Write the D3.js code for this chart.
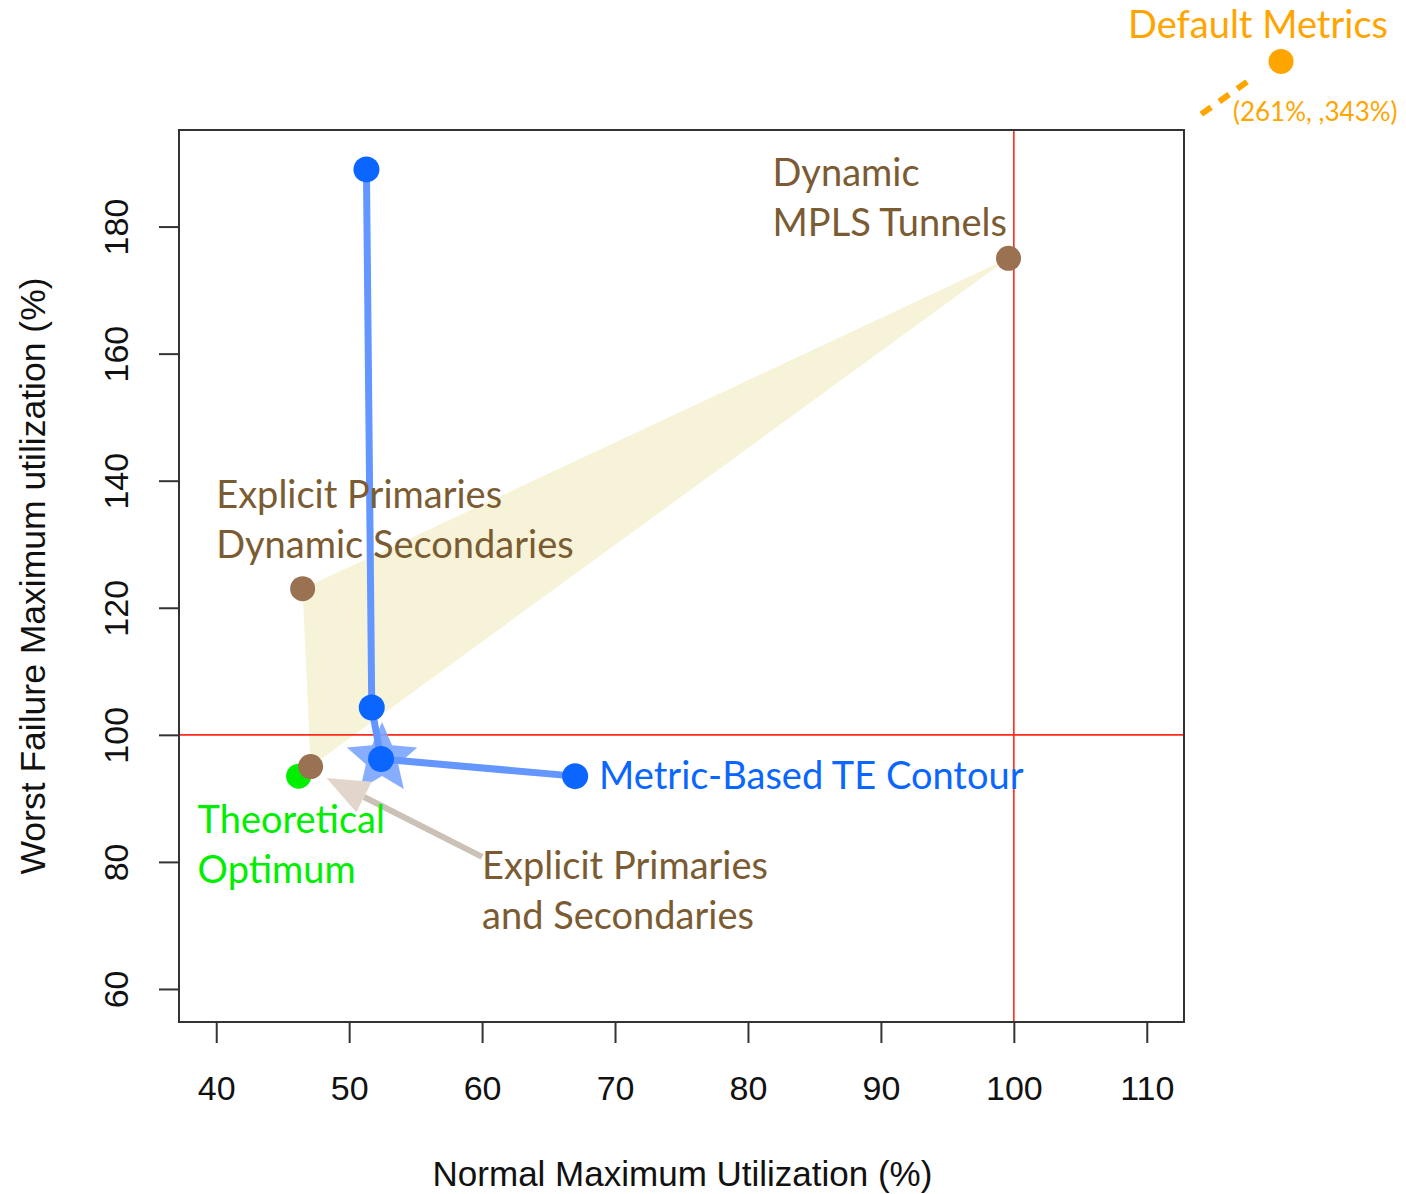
<!DOCTYPE html>
<html>
<head>
<meta charset="utf-8">
<script src="https://cdn.jsdelivr.net/npm/d3@7"></script>
<style>
  html, body { margin: 0; padding: 0; background: #fff; }
  svg { display: block; }
</style>
</head>
<body>
<svg id="chart" width="1406" height="1194"></svg>
<script>
// ---------------- data ----------------
const xTicks = [40, 50, 60, 70, 80, 90, 100, 110];
const yTicks = [60, 80, 100, 120, 140, 160, 180];
const xTitle = "Normal Maximum Utilization (%)";
const yTitle = "Worst Failure Maximum utilization (%)";

// Metric-based TE contour (blue)
const contourX = [51.3, 51.7, 52.4, 67.0];
const contourY = [189.0, 104.3, 96.2, 93.5];
const contourLabel = "Metric-Based TE Contour";
const chosenIndex = 2; // starred point

// Other schemes (brown)
const schemeNames = [["Dynamic", "MPLS Tunnels"], ["Explicit Primaries", "Dynamic Secondaries"], ["Explicit Primaries", "and Secondaries"]];
const schemeX = [99.6, 46.5, 47.1];
const schemeY = [175.0, 123.0, 95.0];

// Theoretical optimum (green)
const optimumX = [46.2];
const optimumY = [93.5];
const optimumLabel = ["Theoretical", "Optimum"];

// Default metrics (off the chart)
const defaultLabel = "Default Metrics";
const defaultValue = [261, 343];
const defaultValueLabel = "(261%, ,343%)";

// Reference lines
const refX = [100];
const refY = [100];

// ---------------- layout ----------------
const W = 1406, H = 1194;
const box = { left: 179, right: 1184, top: 130, bottom: 1022 };
const xDomain = [40, 110], yDomain = [60, 190];
const pad = d => { const r = d[1] - d[0]; return [d[0] - 0.04 * r, d[1] + 0.04 * r]; };

const x = d3.scaleLinear().domain(pad(xDomain)).range([box.left, box.right]);
const y = d3.scaleLinear().domain(pad(yDomain)).range([box.bottom, box.top]);

const annoFont = "Lato, 'Noto Sans', sans-serif";
const axisFont = "'Liberation Sans', Arial, sans-serif";
const brown = "#7b5b32";
const blue = "#0a66ff";
const green = "#00ee00";
const orange = "#ffa500";

const svg = d3.select("#chart");

// yellow region spanned by the three schemes
svg.append("path")
  .attr("d", d3.line()(schemeX.map((v, i) => [x(v), y(schemeY[i])])) + "Z")
  .attr("fill", "#f6f3d9");

// reference lines
refX.forEach(v => svg.append("line")
  .attr("x1", x(v)).attr("x2", x(v)).attr("y1", box.top).attr("y2", box.bottom)
  .attr("stroke", "#ff2a1a").attr("stroke-width", 1.6));
refY.forEach(v => svg.append("line")
  .attr("x1", box.left).attr("x2", box.right).attr("y1", y(v)).attr("y2", y(v))
  .attr("stroke", "#ff2a1a").attr("stroke-width", 1.6));

// box
svg.append("rect")
  .attr("x", box.left).attr("y", box.top)
  .attr("width", box.right - box.left).attr("height", box.bottom - box.top)
  .attr("fill", "none").attr("stroke", "#333").attr("stroke-width", 2);

// axes
const xAxis = svg.append("g")
  .attr("transform", `translate(0,${box.bottom})`)
  .call(d3.axisBottom(x).tickValues(xTicks).tickSize(21).tickPadding(33).tickSizeOuter(0));
xAxis.select(".domain").attr("d", `M${x(xTicks[0])},0H${x(xTicks[xTicks.length - 1])}`).attr("stroke", "#333").attr("stroke-width", 2);
xAxis.selectAll(".tick line").attr("stroke", "#333").attr("stroke-width", 2);
xAxis.selectAll(".tick text").attr("font-family", axisFont).attr("font-size", 34).attr("fill", "#111");

const yAxis = svg.append("g")
  .attr("transform", `translate(${box.left},0)`)
  .call(d3.axisLeft(y).tickValues(yTicks).tickSize(20).tickSizeOuter(0));
yAxis.select(".domain").attr("d", `M0,${y(yTicks[0])}V${y(yTicks[yTicks.length - 1])}`).attr("stroke", "#333").attr("stroke-width", 2);
yAxis.selectAll(".tick line").attr("stroke", "#333").attr("stroke-width", 2);
yAxis.selectAll(".tick text")
  .attr("font-family", axisFont).attr("font-size", 34).attr("fill", "#111")
  .attr("x", null).attr("dy", null)
  .attr("text-anchor", "middle")
  .attr("transform", "translate(-51,0) rotate(-90)");

// axis titles
svg.append("text")
  .attr("x", (box.left + box.right) / 2 + 1).attr("y", 1186)
  .attr("text-anchor", "middle")
  .attr("font-family", axisFont).attr("font-size", 35).attr("fill", "#111")
  .text(xTitle);
svg.append("text")
  .attr("transform", `translate(45,${(box.top + box.bottom) / 2}) rotate(-90)`)
  .attr("text-anchor", "middle")
  .attr("font-family", axisFont).attr("font-size", 35.5).attr("fill", "#111")
  .text(yTitle);

// star on chosen point
const starPath = (cx, cy, R, r) => {
  const pts = [];
  for (let i = 0; i < 10; i++) {
    const a = -Math.PI / 2 + i * Math.PI / 5;
    const rad = i % 2 === 0 ? R : r;
    pts.push([cx + rad * Math.cos(a), cy + rad * Math.sin(a)]);
  }
  return d3.line()(pts) + "Z";
};
svg.append("path")
  .attr("d", starPath(x(contourX[chosenIndex]) + 1, y(contourY[chosenIndex]), 37, 17))
  .attr("fill", "#7aa4ff").attr("opacity", 0.9);

// contour line
svg.append("path")
  .attr("d", d3.line()(contourX.map((v, i) => [x(v), y(contourY[i])])))
  .attr("fill", "none").attr("stroke", "#6496ff").attr("stroke-width", 7)
  .attr("stroke-linejoin", "round");

// contour points
svg.selectAll("circle.contour").data(contourX).join("circle")
  .attr("class", "contour")
  .attr("cx", d => x(d)).attr("cy", (d, i) => y(contourY[i])).attr("r", 13)
  .attr("fill", blue);

// optimum
svg.selectAll("circle.opt").data(optimumX).join("circle")
  .attr("class", "opt")
  .attr("cx", d => x(d)).attr("cy", (d, i) => y(optimumY[i])).attr("r", 12.5)
  .attr("fill", green);

// scheme points
svg.selectAll("circle.scheme").data(schemeX).join("circle")
  .attr("class", "scheme")
  .attr("cx", d => x(d)).attr("cy", (d, i) => y(schemeY[i])).attr("r", 12.5)
  .attr("fill", "#9a7252");

// arrow pointing at explicit primaries & secondaries
const arrowFrom = [60.0, 80.8], arrowTo = [48.3, 93.2];
{
  const x0 = x(arrowFrom[0]), y0 = y(arrowFrom[1]);
  const x1 = x(arrowTo[0]), y1 = y(arrowTo[1]);
  const ang = Math.atan2(y1 - y0, x1 - x0);
  const headLen = 42, headW = 17;
  const bx = x1 - headLen * Math.cos(ang), by = y1 - headLen * Math.sin(ang);
  svg.append("line")
    .attr("x1", x0).attr("y1", y0).attr("x2", bx).attr("y2", by)
    .attr("stroke", "#cbc1b6").attr("stroke-width", 6);
  const px = -Math.sin(ang), py = Math.cos(ang);
  svg.append("path")
    .attr("d", d3.line()([[x1, y1], [bx + headW * px, by + headW * py], [bx - headW * px, by - headW * py]]) + "Z")
    .attr("fill", "#e2d6cc");
}

// labels
const lineGap = 50;
const addLabel = (lines, px, py, color) => {
  const t = svg.append("text")
    .attr("font-family", annoFont).attr("font-size", 38).attr("fill", color);
  lines.forEach((s, i) => t.append("tspan").attr("x", px).attr("y", py + i * lineGap).text(s));
  return t;
};
const schemeLabelAt = [[81.85, 186.4], [40.0, 135.7], [60.0, 77.3]];
schemeNames.forEach((n, i) => addLabel(n, x(schemeLabelAt[i][0]), y(schemeLabelAt[i][1]), brown));
addLabel([contourLabel], x(68.8), y(91.4), blue);
addLabel(optimumLabel, x(38.6), y(84.5), green);

// default metrics annotation (point lies far outside the axes)
const offChart = [120.1, 206.0];
svg.append("circle")
  .attr("cx", x(offChart[0])).attr("cy", y(offChart[1])).attr("r", 12.5)
  .attr("fill", orange);
svg.append("line")
  .attr("x1", x(114.1)).attr("y1", y(197.7)).attr("x2", x(117.7)).attr("y2", y(203.0))
  .attr("stroke", orange).attr("stroke-width", 6).attr("stroke-dasharray", "12,10");
svg.append("text")
  .attr("x", 1388).attr("y", 38).attr("text-anchor", "end")
  .attr("font-family", annoFont).attr("font-size", 38).attr("fill", orange)
  .text(defaultLabel);
svg.append("text")
  .attr("x", 1233).attr("y", 121)
  .attr("font-family", annoFont).attr("font-size", 26).attr("fill", orange)
  .text(defaultValueLabel);
</script>
</body>
</html>
